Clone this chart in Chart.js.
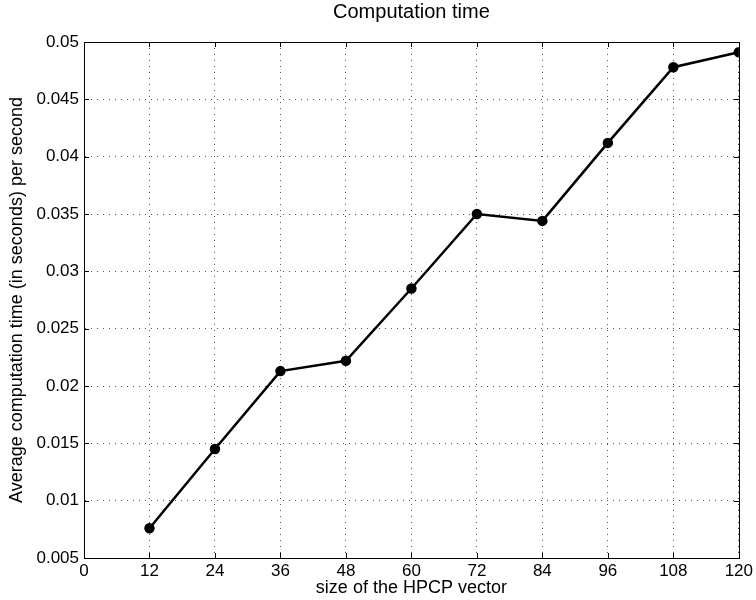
<!DOCTYPE html>
<html>
<head>
<meta charset="utf-8">
<title>Computation time</title>
<script src="https://cdn.jsdelivr.net/npm/chart.js@4/dist/chart.umd.min.js"></script>
<style>
    html, body { margin: 0; padding: 0; background: #fff; }
    #wrap { width: 756px; height: 600px; }
</style>
</head>
<body>
<div id="wrap"><canvas id="timeChart" width="756" height="600"></canvas></div>
<script>
// HPCP vector sizes and mean computation time per second of audio
const vectorSizes = [12, 24, 36, 48, 60, 72, 84, 96, 108, 120];
const avgTimes = [0.0076, 0.0145, 0.0213, 0.0222, 0.0285, 0.0350, 0.0344, 0.0412, 0.0478, 0.0491];

const xTicks = [0, 12, 24, 36, 48, 60, 72, 84, 96, 108, 120];
const yTicks = [0.005, 0.01, 0.015, 0.02, 0.025, 0.03, 0.035, 0.04, 0.045, 0.05];

const FONT = 'Helvetica, "Liberation Sans", Arial, sans-serif';

// box around the axes plus small inward tick marks on all four sides
const axesBox = {
    id: 'axesBox',
    afterDraw(chart) {
        const ctx = chart.ctx;
        const a = chart.chartArea;
        const xs = chart.scales.x, ys = chart.scales.y;
        const len = 5;
        ctx.save();
        ctx.strokeStyle = '#000';
        ctx.lineWidth = 1;
        ctx.beginPath();
        xTicks.forEach(v => {
            const px = Math.round(xs.getPixelForValue(v)) + 0.5;
            ctx.moveTo(px, a.bottom); ctx.lineTo(px, a.bottom - len);
            ctx.moveTo(px, a.top); ctx.lineTo(px, a.top + len);
        });
        yTicks.forEach(v => {
            const py = Math.round(ys.getPixelForValue(v)) + 0.5;
            ctx.moveTo(a.left, py); ctx.lineTo(a.left + len, py);
            ctx.moveTo(a.right, py); ctx.lineTo(a.right - len, py);
        });
        ctx.stroke();
        ctx.strokeRect(Math.round(a.left) + 0.5, Math.round(a.top) + 0.5,
            Math.round(a.right - a.left), Math.round(a.bottom - a.top));
        ctx.restore();
    }
};

new Chart(document.getElementById('timeChart'), {
    type: 'line',
    data: {
        datasets: [{
            data: vectorSizes.map((s, i) => ({ x: s, y: avgTimes[i] })),
            borderColor: '#000',
            backgroundColor: '#000',
            borderWidth: 2.5,
            pointRadius: 4,
            pointBackgroundColor: '#000',
            pointBorderColor: '#000',
            tension: 0,
            fill: false
        }]
    },
    options: {
        responsive: false,
        animation: false,
        layout: { padding: { left: 0, right: 15, top: 0, bottom: 0 } },
        plugins: {
            legend: { display: false },
            tooltip: { enabled: false },
            title: {
                display: true,
                fullSize: false,
                text: 'Computation time',
                color: '#000',
                font: { family: FONT, size: 20, weight: 'normal' },
                padding: { top: 0, bottom: 18 }
            }
        },
        scales: {
            x: {
                type: 'linear',
                min: 0,
                max: 120,
                afterBuildTicks: scale => { scale.ticks = xTicks.map(v => ({ value: v })); },
                afterFit: scale => { scale.height = 42; },
                ticks: {
                    color: '#000',
                    padding: 3,
                    font: { family: FONT, size: 17 },
                    maxRotation: 0
                },
                grid: {
                    color: '#555',
                    drawTicks: false
                },
                border: { display: true, color: '#000', width: 1, dash: [1, 5] },
                title: {
                    display: true,
                    text: 'size of the HPCP vector',
                    color: '#000',
                    font: { family: FONT, size: 18 },
                    padding: { top: 0, bottom: 1 }
                }
            },
            y: {
                type: 'linear',
                min: 0.005,
                max: 0.05,
                afterBuildTicks: scale => { scale.ticks = yTicks.map(v => ({ value: v })); },
                afterFit: scale => { scale.width = 84; },
                ticks: {
                    color: '#000',
                    padding: 5,
                    font: { family: FONT, size: 17 },
                    callback: v => String(+v.toFixed(3))
                },
                grid: {
                    color: '#555',
                    drawTicks: false
                },
                border: { display: true, color: '#000', width: 1, dash: [1, 5] },
                title: {
                    display: true,
                    text: 'Average computation time (in seconds) per second',
                    color: '#000',
                    font: { family: FONT, size: 18 },
                    padding: { top: 6, bottom: 0 }
                }
            }
        }
    },
    plugins: [axesBox]
});
</script>
</body>
</html>
